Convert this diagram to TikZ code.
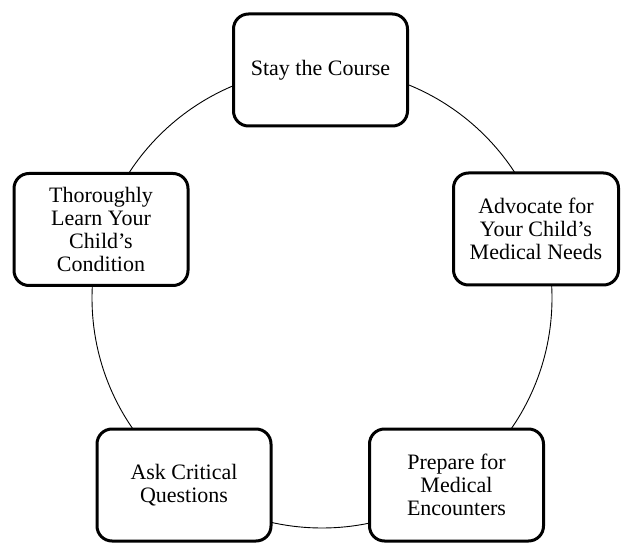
\documentclass[tikz,border=0pt]{standalone}
\usepackage{fontspec}
\setmainfont{Liberation Serif}
\newfontfamily\ciclofonte{Liberation Serif}
\usetikzlibrary{positioning}
\tikzset{
  ciclobloco/.style={draw=black, fill=white, line width=3pt, rounded corners=15pt, align=center,
                  font=\ciclofonte\fontsize{22}{23}\selectfont, inner sep=4pt,
                  minimum width=174pt, minimum height=112pt},
  ciclolinha/.style={draw=black, line width=0.9pt},
}
\begin{document}
\begin{tikzpicture}[x=1pt, y=-1pt]
    \useasboundingbox (0,0) rectangle (621,545);
    % circulo do ciclo
    \coordinate (centro) at (322,298);
    \draw[ciclolinha] (centro) circle (230pt);
    % etapas
    \node[ciclobloco] (curso) at (320.5,70) {Stay the Course};
    \node[ciclobloco, minimum width=165pt] (defender) at (536,229) {Advocate for\\Your Child’s\\Medical Needs};
    \node[ciclobloco] (preparar) at (456.5,485) {Prepare for\\Medical\\Encounters};
    \node[ciclobloco] (perguntar) at (184,485) {Ask Critical\\Questions};
    \node[ciclobloco] (aprender) at (101,229.5) {Thoroughly\\Learn Your\\Child’s\\Condition};
\end{tikzpicture}
\end{document}
